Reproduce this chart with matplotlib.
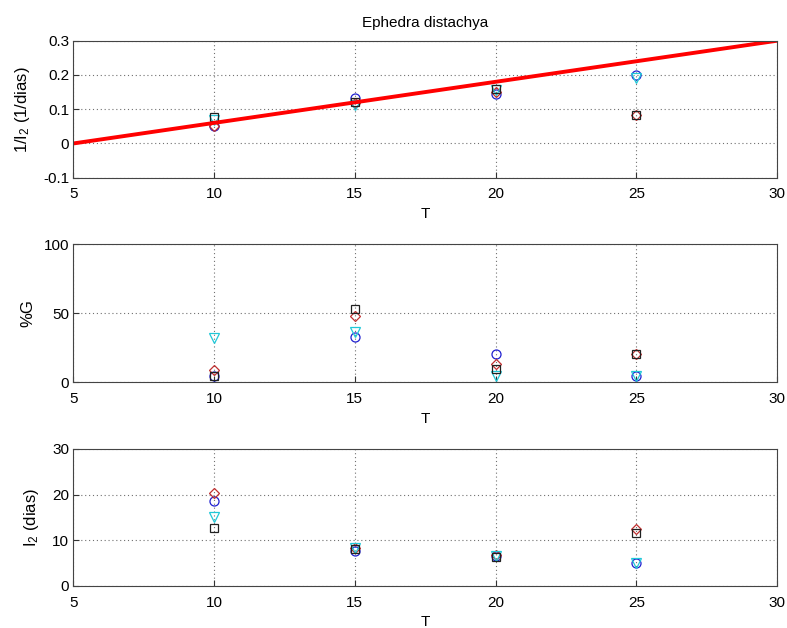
import numpy as np
import matplotlib
matplotlib.use("Agg")
import matplotlib.pyplot as plt

plt.rcParams['font.family'] = ['Liberation Sans', 'DejaVu Sans']
plt.rcParams['mathtext.default'] = 'regular'
plt.rcParams['font.size'] = 11

# temperatures
T = [10, 15, 20, 25]

# 1/I2 (1/dias)
inv_blue = [0.050, 0.134, 0.145, 0.200]
inv_red = [0.050, 0.118, 0.150, 0.082]
inv_cyan = [0.069, 0.111, 0.155, 0.190]
inv_black = [0.078, 0.120, 0.158, 0.082]

# %G
g_blue = [4.6, 32.6, 20.3, 4.6]
g_red = [8.9, 48.0, 13.0, 20.3]
g_cyan = [32.3, 36.7, 4.6, 4.6]
g_black = [4.6, 52.9, 9.4, 20.3]

# I2 (dias)
i2_blue = [18.7, 7.6, 6.6, 5.0]
i2_red = [20.3, 8.3, 6.8, 12.4]
i2_cyan = [15.2, 8.3, 6.6, 5.1]
i2_black = [12.8, 8.0, 6.4, 11.7]

# fitted line
fit_T = [5, 30]
fit_v = [0.0, 0.3]

series = [
    ('#2020d0', 'o', 6.5),
    ('#c03030', 'D', 5.0),
    ('#20c8d8', 'v', 6.5),
    ('#202020', 's', 6.0),
]

fig = plt.figure(figsize=(7.87, 6.28), dpi=100)
ax1 = fig.add_axes([0.0931, 0.717, 0.8945, 0.2182])
ax2 = fig.add_axes([0.0931, 0.3912, 0.8945, 0.2202])
ax3 = fig.add_axes([0.0931, 0.0669, 0.8945, 0.2182])


def style(ax, ylim, yticks):
    ax.set_xlim(5, 30)
    ax.set_ylim(*ylim)
    ax.set_xticks([5, 10, 15, 20, 25, 30])
    ax.set_yticks(yticks)
    ax.grid(True, linestyle=(0, (1, 2.5)), color='#707070', linewidth=0.8)
    ax.tick_params(direction='in', length=4, top=False, right=False,
                   colors='#333333', labelcolor='black', pad=3)
    ax.tick_params(axis='x', pad=7)
    for s in ax.spines.values():
        s.set_color('#444444')
        s.set_linewidth(0.8)
    ax.set_xlabel('T', labelpad=4)


def dots(ax, data):
    for (c, m, ms), y in zip(series, data):
        ax.plot(T, y, linestyle='none', marker=m, markersize=ms,
                markerfacecolor='none', markeredgecolor=c, markeredgewidth=0.9)


dots(ax1, [inv_blue, inv_red, inv_cyan, inv_black])
ax1.plot(fit_T, fit_v, color='#ff0000', linewidth=2.8)
style(ax1, (-0.1, 0.3), [-0.1, 0, 0.1, 0.2, 0.3])
ax1.set_yticklabels(['-0.1', '0', '0.1', '0.2', '0.3'])
ax1.set_ylabel('1/I$_2$ (1/dias)', fontsize=12, labelpad=8)
ax1.set_title('Ephedra distachya', fontsize=11, pad=10)

dots(ax2, [g_blue, g_red, g_cyan, g_black])
style(ax2, (0, 100), [0, 50, 100])
ax2.set_ylabel('%G', fontsize=12, labelpad=6)

dots(ax3, [i2_blue, i2_red, i2_cyan, i2_black])
style(ax3, (0, 30), [0, 10, 20, 30])
ax3.set_ylabel('I$_2$ (dias)', fontsize=12, labelpad=8)

fig.savefig('out.png', dpi=100)
